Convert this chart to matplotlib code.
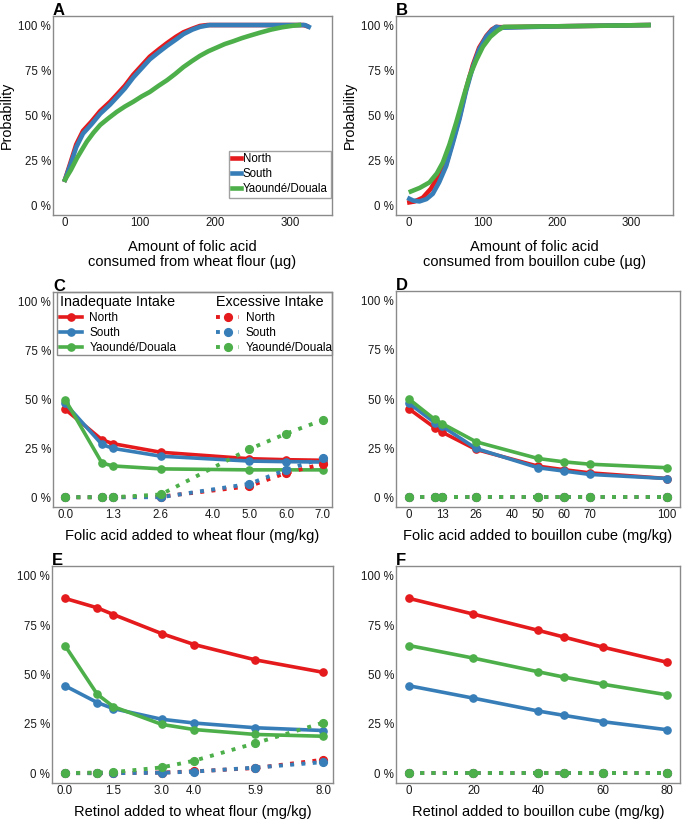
import matplotlib
matplotlib.use('Agg')
import matplotlib.pyplot as plt
from matplotlib.ticker import FuncFormatter
from matplotlib.lines import Line2D
from matplotlib.patches import Rectangle

plt.rcParams['font.family'] = ['Liberation Sans', 'DejaVu Sans']

RED = '#E41A1C'
BLUE = '#377EB8'
GREEN = '#4DAF4A'
regions = ['North', 'South', 'Yaoundé/Douala']
colors = [RED, BLUE, GREEN]

# --- A: folic acid consumed from wheat flour (cumulative probability, %)
a_north_x = [0, 7, 15, 24, 35, 47, 60, 69, 80, 91, 102, 113, 125, 136, 148, 158, 170, 180, 190, 250, 300, 318, 322]
a_north_y = [14.5, 23.5, 34, 41.5, 46.5, 52.5, 57.5, 61.5, 66.5, 72.5, 77.5, 82.5, 86.5, 90, 93.5, 96, 98, 99.5, 100, 100, 100, 100, 99.5]
a_south_x = [0, 7, 15, 24, 35, 47, 60, 69, 80, 91, 102, 113, 125, 136, 148, 158, 170, 180, 193, 250, 300, 320, 325]
a_south_y = [14.5, 22.5, 32.5, 40, 45, 51, 56, 60, 65, 71, 76, 81, 85, 88.5, 92, 95, 97.5, 99, 100, 100, 100, 100, 99]
a_yd_x = [0, 8, 16, 29, 38, 47, 58, 69, 80, 91, 102, 113, 125, 136, 147, 158, 169, 180, 191, 202, 213, 224, 236, 247, 260, 275, 290, 305, 312]
a_yd_y = [14.5, 20, 26.5, 35.5, 40.5, 44.8, 48.5, 52, 55, 57.6, 60.5, 63, 66.5, 69.5, 73, 76.8, 80, 83, 85.5, 87.5, 89.5, 91, 92.8, 94.2, 95.8, 97.5, 98.8, 99.7, 100]

# --- B: folic acid consumed from bouillon cube
b_north_x = [1, 8, 19, 30, 41, 50.5, 59, 68.5, 77, 86.6, 95, 104.7, 112, 118, 123, 200, 323]
b_north_y = [2, 2.5, 4.5, 9.5, 17.5, 23, 35, 49, 64, 78, 87.5, 94, 97.5, 99, 98.8, 99.3, 100]
b_south_x = [1, 6, 14.5, 24, 32.5, 41, 50.5, 59, 68.5, 77, 86.6, 95, 104.7, 112, 118, 123, 200, 323]
b_south_y = [4, 3, 2.5, 3.8, 6.7, 13, 22, 34, 48, 63, 77, 86.5, 93.6, 97, 99, 98.5, 99.3, 100]
b_yd_x = [3, 15, 28, 38, 46, 55, 64, 73, 82, 91, 100, 110, 120, 128, 200, 260, 323]
b_yd_y = [8, 10, 13, 18, 24, 34, 46, 59, 71.6, 80.5, 88, 93.5, 97, 99, 99.3, 99.6, 100]

# --- C: folic acid added to wheat flour (mg/kg)
c_x = [0.0, 1.0, 1.3, 2.6, 5.0, 6.0, 7.0]
c_inad = {
    'North': [45, 29.4, 27.4, 23, 19.7, 19.2, 18.9],
    'South': [48, 27, 25, 21, 18.5, 18.2, 18],
    'Yaoundé/Douala': [50, 17.5, 16, 14.5, 14, 14, 14],
}
c_exc = {
    'North': [0, 0, 0, 0.3, 5.6, 12.4, 17],
    'South': [0, 0, 0, 0, 6.8, 14, 20],
    'Yaoundé/Douala': [0, 0, 0, 1.4, 24.6, 32.5, 39.5],
}
c_ticks = [0.0, 1.3, 2.6, 4.0, 5.0, 6.0, 7.0]

# --- D: folic acid added to bouillon cube (mg/kg)
d_x = [0, 10, 13, 26, 50, 60, 70, 100]
d_inad = {
    'North': [45, 35.4, 33, 24.3, 15.8, 14, 12.4, 9.5],
    'South': [47.8, 38, 36, 24.8, 15, 13.3, 11.6, 9.5],
    'Yaoundé/Douala': [50, 39.6, 37.4, 28.2, 19.7, 18, 16.8, 15],
}
d_exc = {
    'North': [0, 0, 0, 0, 0, 0, 0, 0],
    'South': [0, 0, 0, 0, 0, 0, 0, 0],
    'Yaoundé/Douala': [0, 0, 0, 0, 0, 0, 0, 0],
}
d_ticks = [0, 13, 26, 40, 50, 60, 70, 100]

# --- E: retinol added to wheat flour (mg/kg)
e_x = [0.0, 1.0, 1.5, 3.0, 4.0, 5.9, 8.0]
e_inad = {
    'North': [88.6, 83.8, 80.4, 70.7, 65.2, 57.4, 51.1],
    'South': [44.3, 35.8, 32.7, 27.3, 25.4, 23, 21.6],
    'Yaoundé/Douala': [64.7, 40, 33.7, 24.7, 22.1, 19.6, 18.7],
}
e_exc = {
    'North': [0, 0, 0, 0.3, 0.9, 2.6, 6.8],
    'South': [0, 0, 0, 0.2, 0.8, 2.8, 5.6],
    'Yaoundé/Douala': [0, 0.3, 0.5, 2.9, 6.3, 15.2, 25.6],
}
e_ticks = [0.0, 1.5, 3.0, 4.0, 5.9, 8.0]

# --- F: retinol added to bouillon cube (mg/kg)
f_x = [0, 20, 40, 48, 60, 80]
f_inad = {
    'North': [88.6, 80.6, 72.4, 69, 63.9, 56.2],
    'South': [44.3, 38, 31.5, 29.3, 26.1, 22],
    'Yaoundé/Douala': [64.7, 58.3, 51.4, 48.7, 45.1, 39.7],
}
f_exc = {
    'North': [0, 0, 0, 0, 0, 0],
    'South': [0, 0, 0, 0, 0, 0],
    'Yaoundé/Douala': [0, 0, 0, 0, 0, 0],
}
f_ticks = [0, 20, 40, 60, 80]

W, H = 682, 821
fig = plt.figure(figsize=(W / 100, H / 100), dpi=100)


def add_panel(left, top, right, bottom, letter):
    ax = fig.add_axes([left / W, 1 - bottom / H, (right - left) / W, (bottom - top) / H])
    for s in ax.spines.values():
        s.set_color('#8a8a8a')
        s.set_linewidth(1.0)
    ax.tick_params(labelcolor='#1a1a1a', labelsize=8.3, length=0, pad=1.5)
    ax.set_ylim(-5, 105)
    ax.set_yticks([0, 25, 50, 75, 100])
    ax.yaxis.set_major_formatter(FuncFormatter(lambda v, p: f'{v:.0f} %'))
    ax.text(0, 1.006, letter, transform=ax.transAxes, ha='left', va='baseline',
            fontsize=12, fontweight='bold')
    return ax


def dose_panel(ax, x, inad, exc, ticks, fmt):
    for name, col in zip(regions, colors):
        ax.plot(x, inad[name], color=col, lw=2.6, marker='o', ms=5.2, solid_capstyle='round')
    for name, col in zip(regions, colors):
        ax.plot(x, exc[name], color=col, lw=2.8, ls=(0, (1, 1.9)), marker='o', ms=5.6)
    ax.set_xticks(ticks)
    ax.set_xticklabels([fmt.format(t) for t in ticks])


# A
axA = add_panel(53, 16, 332, 215, 'A')
axA.plot(a_north_x, a_north_y, color=RED, lw=3.3, label='North')
axA.plot(a_south_x, a_south_y, color=BLUE, lw=3.3, label='South')
axA.plot(a_yd_x, a_yd_y, color=GREEN, lw=3.3, label='Yaoundé/Douala')
axA.set_xlim(-16, 356)
axA.set_xticks([0, 100, 200, 300])
axA.set_ylabel('Probability', fontsize=10.3, labelpad=3)
axA.set_xlabel('Amount of folic acid\nconsumed from wheat flour (µg)', fontsize=10.5, labelpad=8, linespacing=1.1)
legA = axA.legend(loc='lower right', bbox_to_anchor=(0.995, 0.085), fontsize=8.3, frameon=True,
                  fancybox=False, edgecolor='#8a8a8a', handlelength=0.8, handletextpad=0.15,
                  borderpad=0.25, labelspacing=0.25, borderaxespad=0)
legA.get_frame().set_linewidth(1.0)

# B
axB = add_panel(396, 16, 673, 215, 'B')
axB.plot(b_north_x, b_north_y, color=RED, lw=3.3)
axB.plot(b_south_x, b_south_y, color=BLUE, lw=3.3)
axB.plot(b_yd_x, b_yd_y, color=GREEN, lw=3.3)
axB.set_xlim(-17, 356)
axB.set_xticks([0, 100, 200, 300])
axB.set_ylabel('Probability', fontsize=10.3, labelpad=3)
axB.set_xlabel('Amount of folic acid\nconsumed from bouillon cube (µg)', fontsize=10.5, labelpad=8, linespacing=1.1)

# C
axC = add_panel(53, 292, 332, 507, 'C')
dose_panel(axC, c_x, c_inad, c_exc, c_ticks, '{:.1f}')
axC.set_xlim(-0.33, 7.25)
axC.set_xlabel('Folic acid added to wheat flour (mg/kg)', fontsize=10.5, labelpad=6)

h_inad = [Line2D([], [], color=c, lw=2.6, marker='o', ms=5.2) for c in colors]
h_exc = [Line2D([], [], color=c, lw=2.8, ls=(0, (1, 1.9)), marker='o', ms=5.6) for c in colors]
kw = dict(fontsize=8.5, title_fontsize=10.3, frameon=False, handlelength=1.9, handletextpad=0.6,
          labelspacing=0.25, borderaxespad=0, borderpad=0.25, alignment='left')
leg1 = axC.legend(h_inad, regions, title='Inadequate Intake', loc='upper left',
                  bbox_to_anchor=(0.014, 1.0), **kw)
axC.add_artist(leg1)
leg2 = axC.legend(h_exc, regions, title='Excessive Intake', loc='upper left',
                  bbox_to_anchor=(0.575, 1.0), **kw)
axC.add_patch(Rectangle((0.014, 0.707), 0.986, 0.293, transform=axC.transAxes, fill=False,
                        edgecolor='#8a8a8a', lw=1.0, clip_on=False, zorder=5))

# D
axD = add_panel(396, 291, 680, 507, 'D')
dose_panel(axD, d_x, d_inad, d_exc, d_ticks, '{:d}')
axD.set_xlim(-5, 105)
axD.set_xlabel('Folic acid added to bouillon cube (mg/kg)', fontsize=10.5, labelpad=6)

# E
axE = add_panel(52, 566, 333, 783, 'E')
dose_panel(axE, e_x, e_inad, e_exc, e_ticks, '{:.1f}')
axE.set_xlim(-0.4, 8.3)
axE.set_xlabel('Retinol added to wheat flour (mg/kg)', fontsize=10.5, labelpad=6)

# F
axF = add_panel(396, 566, 680, 783, 'F')
dose_panel(axF, f_x, f_inad, f_exc, f_ticks, '{:d}')
axF.set_xlim(-4, 84)
axF.set_xlabel('Retinol added to bouillon cube (mg/kg)', fontsize=10.5, labelpad=6)

fig.savefig('out.png', dpi=100)
